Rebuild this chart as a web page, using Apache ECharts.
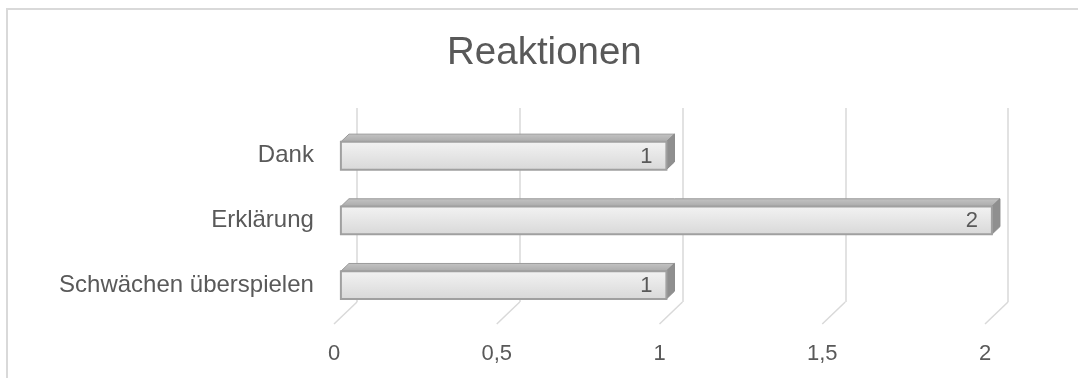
<!DOCTYPE html>
<html>
<head>
<meta charset="utf-8">
<title>Reaktionen</title>
<script src="https://cdn.jsdelivr.net/npm/echarts@6/dist/echarts.min.js"></script>
<style>
  html, body { margin: 0; padding: 0; background: #ffffff; }
  #chart { width: 1078px; height: 378px; }
</style>
</head>
<body>
<div id="chart"></div>
<script>
// Chart data
const categories = ['Dank', 'Erklärung', 'Schwächen überspielen'];
const values = [1, 2, 1];
const tickValues = [0, 0.5, 1, 1.5, 2];
const titleText = 'Reaktionen';

const FONT = '"Liberation Sans", Arial, sans-serif';
const TEXT_COLOR = '#595959';
const GRID_COLOR = '#d9d9d9';

// Oblique projection of the 3D box: full depth shifts a point by (-23, +22)
const DEPTH_X = -23, DEPTH_Y = 22;
const BAR_FRONT = 0.7;   // depth of the bar front face
const BAR_BACK = 0.35;   // depth of the bar back face

const plotLeft = 357, plotTop = 108, plotWidth = 651, plotHeight = 194;

function gridAt(depth) {
  return {
    left: plotLeft + DEPTH_X * depth,
    top: plotTop + DEPTH_Y * depth,
    width: plotWidth,
    height: plotHeight
  };
}

const fmt = v => String(v).replace('.', ',');

const chart = echarts.init(document.getElementById('chart'), null, { renderer: 'canvas' });

const valueAxisBase = { type: 'value', min: 0, max: 2, interval: 0.5 };
const catAxisBase = { type: 'category', data: categories, inverse: true };

chart.setOption({
  backgroundColor: '#ffffff',
  animation: false,
  textStyle: { fontFamily: FONT },
  title: {
    text: titleText,
    left: 447,
    top: 34,
    padding: 0,
    textStyle: { fontFamily: FONT, fontSize: 38.5, fontWeight: 'normal', color: TEXT_COLOR }
  },
  graphic: [{
    type: 'rect',
    shape: { x: 7, y: 9, width: 1100, height: 420 },
    style: { fill: 'none', stroke: GRID_COLOR, lineWidth: 2 },
    silent: true
  }],
  grid: [gridAt(0), gridAt(BAR_FRONT), gridAt(1)],
  xAxis: [
    // back wall: vertical gridlines
    Object.assign({}, valueAxisBase, {
      gridIndex: 0,
      axisLine: { show: false }, axisTick: { show: false }, axisLabel: { show: false },
      splitLine: { show: true, lineStyle: { color: GRID_COLOR, width: 1.5 } }
    }),
    // bar front plane
    Object.assign({}, valueAxisBase, {
      gridIndex: 1,
      axisLine: { show: false }, axisTick: { show: false }, axisLabel: { show: false },
      splitLine: { show: false }
    }),
    // front edge of the floor: tick labels
    Object.assign({}, valueAxisBase, {
      gridIndex: 2,
      axisLine: { show: false }, axisTick: { show: false },
      splitLine: { show: false },
      axisLabel: {
        show: true, margin: 19, color: TEXT_COLOR, fontSize: 22, fontFamily: FONT,
        formatter: fmt
      }
    })
  ],
  yAxis: [
    Object.assign({}, catAxisBase, {
      gridIndex: 0,
      axisLine: { show: false }, axisTick: { show: false }, axisLabel: { show: false },
      splitLine: { show: false }
    }),
    Object.assign({}, catAxisBase, {
      gridIndex: 1,
      axisLine: { show: false }, axisTick: { show: false },
      splitLine: { show: false },
      axisLabel: {
        show: true, margin: 27, color: TEXT_COLOR, fontSize: 24, fontFamily: FONT,
        padding: [6, 0, 0, 0]
      }
    }),
    Object.assign({}, catAxisBase, {
      gridIndex: 2,
      axisLine: { show: false }, axisTick: { show: false }, axisLabel: { show: false },
      splitLine: { show: false }
    })
  ],
  series: [
    // floor lines running from the back wall to the front edge
    {
      type: 'custom',
      xAxisIndex: 0,
      yAxisIndex: 0,
      silent: true,
      z: 1,
      data: tickValues.map(v => [v]),
      renderItem: function (params, api) {
        const cs = params.coordSys;
        const x = api.coord([api.value(0), 0])[0];
        const yb = cs.y + cs.height;
        return {
          type: 'polyline',
          shape: { points: [[x, yb], [x + DEPTH_X, yb + DEPTH_Y]] },
          style: { stroke: GRID_COLOR, lineWidth: 1.5, fill: 'none' }
        };
      }
    },
    // 3D bars
    {
      type: 'custom',
      xAxisIndex: 1,
      yAxisIndex: 1,
      z: 3,
      data: values.map((v, i) => [v, i]),
      renderItem: function (params, api) {
        const v = api.value(0);
        const idx = api.value(1);
        const end = api.coord([v, idx]);
        const start = api.coord([0, idx]);
        const h = api.size([0, 1])[1] * 0.43;
        const top = end[1] - h / 2;
        const dx = DEPTH_X * (BAR_BACK - BAR_FRONT);
        const dy = DEPTH_Y * (BAR_BACK - BAR_FRONT);
        const x0 = start[0], x1 = end[0];
        return {
          type: 'group',
          children: [
            {
              type: 'polygon',
              shape: { points: [[x0, top], [x0 + dx, top + dy], [x1 + dx, top + dy], [x1, top]] },
              style: {
                fill: new echarts.graphic.LinearGradient(0, 0, 0, 1, [
                  { offset: 0, color: '#c4c4c4' }, { offset: 1, color: '#a9a9a9' }
                ]),
                stroke: '#9a9a9a', lineWidth: 1
              }
            },
            {
              type: 'polygon',
              shape: { points: [[x1, top], [x1 + dx, top + dy], [x1 + dx, top + dy + h], [x1, top + h]] },
              style: { fill: '#8f8f8f', stroke: '#8a8a8a', lineWidth: 1 }
            },
            {
              type: 'rect',
              shape: { x: x0, y: top, width: x1 - x0, height: h },
              style: {
                fill: new echarts.graphic.LinearGradient(0, 0, 0, 1, [
                  { offset: 0, color: '#f3f3f3' }, { offset: 1, color: '#d8d8d8' }
                ]),
                stroke: '#a0a0a0', lineWidth: 2
              }
            },
            {
              type: 'text',
              style: {
                text: String(v),
                x: x1 - 14,
                y: top + h / 2 + 1,
                align: 'right',
                verticalAlign: 'middle',
                fill: TEXT_COLOR,
                fontSize: 22,
                fontFamily: FONT
              }
            }
          ]
        };
      }
    }
  ]
});
</script>
</body>
</html>
